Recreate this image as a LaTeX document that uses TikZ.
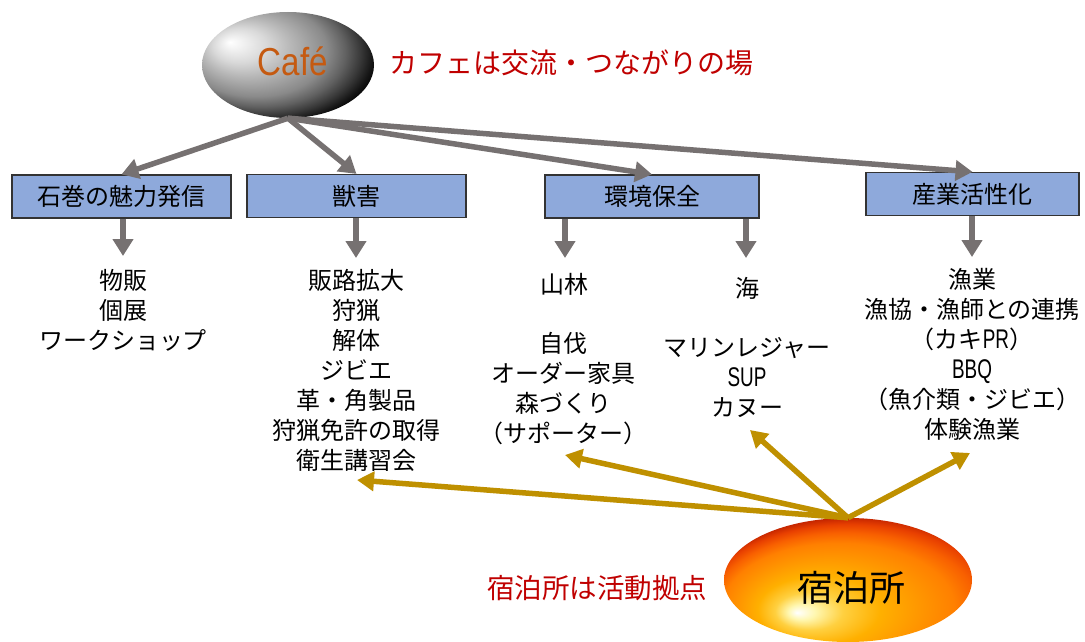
\documentclass[tikz,border=0pt]{standalone}
\usepackage{fontspec}
\setmainfont{Noto Sans CJK JP}
\newfontfamily\narrowsans[FakeStretch=0.7]{Liberation Sans}
\newfontfamily\cafefont[FakeStretch=0.85]{Liberation Sans}
\usetikzlibrary{shapes.geometric,arrows.meta}
\definecolor{boxblue}{HTML}{8EA9DB}
\definecolor{arrgray}{HTML}{767171}
\definecolor{goldc}{HTML}{BF9000}
\definecolor{redtxt}{HTML}{C00000}
\definecolor{cafeorange}{HTML}{C55A11}
\definecolor{hA}{HTML}{FFF7B0}
\definecolor{hB}{HTML}{FFD040}
\definecolor{hC}{HTML}{FFB000}
\definecolor{hD}{HTML}{FF9800}
\definecolor{hE}{HTML}{FF8000}
\definecolor{hF}{HTML}{F86000}
\definecolor{hG}{HTML}{E84000}
\definecolor{hH}{HTML}{C82800}
\definecolor{hI}{HTML}{A81C00}
\pgfdeclareradialshading{cafeball}{\pgfqpoint{-9bp}{4.5bp}}{color(0bp)=(white); color(2bp)=(white!95!black); color(6bp)=(black!15); color(10bp)=(black!28); color(13bp)=(black!37); color(16bp)=(black!46); color(19bp)=(black!62); color(21.5bp)=(black!78); color(23.5bp)=(black!92); color(25bp)=(black)}
\pgfdeclareradialshading{hotelball}{\pgfqpoint{-9bp}{-2bp}}{color(0bp)=(white); color(2bp)=(hA); color(5bp)=(hB); color(9bp)=(hC); color(13bp)=(hD); color(17bp)=(hE); color(19.5bp)=(hF); color(21.5bp)=(hG); color(23bp)=(hH); color(25bp)=(hI)}
\newcommand{\nl}[1]{{\narrowsans\fontsize{27}{30}\selectfont #1}}
\tikzset{
  box/.style={draw=black!80, line width=1.2pt, fill=boxblue, minimum height=43pt, inner sep=0pt, font=\fontsize{24}{24}\selectfont},
  txt/.style={align=center, inner sep=0pt, font=\fontsize{24}{30}\selectfont},
  redlabel/.style={text=redtxt, inner sep=0pt, font=\fontsize{28}{28}\selectfont},
  grayarrow/.style={draw=arrgray, line width=5.5pt, -{Triangle[length=17pt,width=20pt]}},
  goldarrow/.style={draw=goldc, line width=5.5pt, -{Triangle[length=17pt,width=19pt]}},
}
\begin{document}
\begin{tikzpicture}[x=1pt,y=-1pt]
\useasboundingbox (0,0) rectangle (1085,642);
\fill[white] (0,0) rectangle (1085,642);

% Cafe ellipse
\node[ellipse, minimum width=172pt, minimum height=106pt, inner sep=0pt,
  path picture={\shade[shading=cafeball] ([shift={(-18,-10)}]path picture bounding box.center) ellipse [x radius=112, y radius=72];}] (cafe) at (288,65) {};
\node[text=cafeorange, inner sep=0pt, font=\cafefont\fontsize{39}{39}\selectfont] (cafetext) at (293,61) {Café};
\node[redlabel] (cafelabel) at (571,63) {カフェは交流・つながりの場};

% boxes
\node[box, minimum width=219pt] (b1) at (121.5,196.5) {石巻の魅力発信};
\node[box, minimum width=219pt] (b2) at (356.5,196) {獣害};
\node[box, minimum width=214pt] (b3) at (652,196.5) {環境保全};
\node[box, minimum width=213pt] (b4) at (972.5,194) {産業活性化};

\draw[grayarrow] (cafe.south) -- (b1.north);
\draw[grayarrow] (cafe.south) -- (b2.north);
\draw[grayarrow] (cafe.south) -- (b3.north);
\draw[grayarrow] (cafe.south) -- (b4.north);

% down arrows
\coordinate (d1) at (123,256);
\coordinate (d2) at (356,258);
\coordinate (d3) at (565,258);
\coordinate (d4) at (746,258);
\coordinate (d5) at (972,257);
\draw[grayarrow] (b1.south -| d1) -- (d1);
\draw[grayarrow] (b2.south -| d2) -- (d2);
\draw[grayarrow] (b3.south -| d3) -- (d3);
\draw[grayarrow] (b3.south -| d4) -- (d4);
\draw[grayarrow] (b4.south -| d5) -- (d5);

% texts
\node[txt, anchor=north] (t1) at (123,269) {物販\\個展\\ワークショップ};
\node[txt, anchor=north] (t2) at (356,269) {販路拡大\\狩猟\\解体\\ジビエ\\革・角製品\\狩猟免許の取得\\衛生講習会};
\node[txt] (t3a) at (564,284) {山林};
\node[txt, anchor=north] (t3b) at (563,332) {自伐\\オーダー家具\\森づくり\\（サポーター）};
\node[txt] (t4a) at (747,288) {海};
\node[txt, anchor=north] (t4b) at (747,337) {マリンレジャー\\\nl{SUP}\\カヌー};
\node[txt, anchor=north] (t5) at (972,268) {漁業\\漁協・漁師との連携\\（カキ\nl{PR}）\\\nl{BBQ}\\（魚介類・ジビエ）\\体験漁業};

% hotel
\node[ellipse, minimum width=248pt, minimum height=124pt, inner sep=0pt,
  path picture={\shade[shading=hotelball] ([shift={(10,25)}]path picture bounding box.center) ellipse [x radius=170, y radius=95];}] (hotel) at (848,580) {};
\node[inner sep=0pt, font=\fontsize{36}{36}\selectfont] (hoteltext) at (851,588) {宿泊所};
\node[redlabel, font=\fontsize{27.5}{27.5}\selectfont] (hotellabel) at (597,588) {宿泊所は活動拠点};

\coordinate (g1) at (357,480);
\coordinate (g2) at (565,455);
\coordinate (g3) at (750,430);
\coordinate (g4) at (970,453);
\draw[goldarrow] (hotel.north) -- (g1);
\draw[goldarrow] (hotel.north) -- (g2);
\draw[goldarrow] (hotel.north) -- (g3);
\draw[goldarrow] (hotel.north) -- (g4);
\end{tikzpicture}
\end{document}
